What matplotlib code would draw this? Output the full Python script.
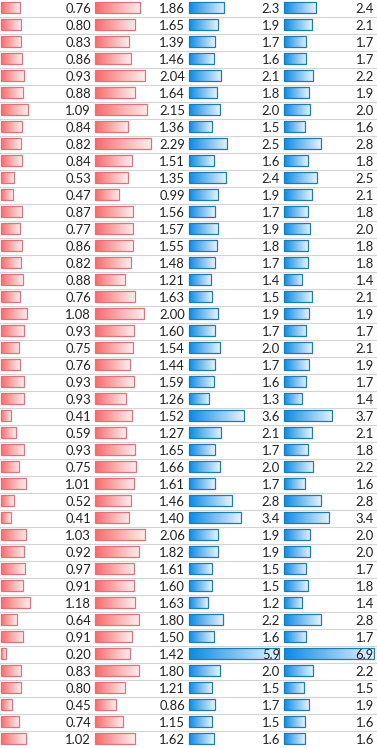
import numpy as np
import matplotlib
matplotlib.use('Agg')
import matplotlib.pyplot as plt
from matplotlib.colors import LinearSegmentedColormap
from matplotlib.transforms import blended_transform_factory

# values, top to bottom
col_a = [0.76, 0.80, 0.83, 0.86, 0.93, 0.88, 1.09, 0.84, 0.82, 0.84, 0.53,
         0.47, 0.87, 0.77, 0.86, 0.82, 0.88, 0.76, 1.08, 0.93, 0.75, 0.76,
         0.93, 0.93, 0.41, 0.59, 0.93, 0.75, 1.01, 0.52, 0.41, 1.03, 0.92,
         0.97, 0.91, 1.18, 0.64, 0.91, 0.20, 0.83, 0.80, 0.45, 0.74, 1.02]
col_b = [1.86, 1.65, 1.39, 1.46, 2.04, 1.64, 2.15, 1.36, 2.29, 1.51, 1.35,
         0.99, 1.56, 1.57, 1.55, 1.48, 1.21, 1.63, 2.00, 1.60, 1.54, 1.44,
         1.59, 1.26, 1.52, 1.27, 1.65, 1.66, 1.61, 1.46, 1.40, 2.06, 1.82,
         1.61, 1.60, 1.63, 1.80, 1.50, 1.42, 1.80, 1.21, 0.86, 1.15, 1.62]
col_c = [2.3, 1.9, 1.7, 1.6, 2.1, 1.8, 2.0, 1.5, 2.5, 1.6, 2.4,
         1.9, 1.7, 1.9, 1.8, 1.7, 1.4, 1.5, 1.9, 1.7, 2.0, 1.7,
         1.6, 1.3, 3.6, 2.1, 1.7, 2.0, 1.7, 2.8, 3.4, 1.9, 1.9,
         1.5, 1.5, 1.2, 2.2, 1.6, 5.9, 2.0, 1.5, 1.7, 1.5, 1.6]
col_d = [2.4, 2.1, 1.7, 1.7, 2.2, 1.9, 2.0, 1.6, 2.8, 1.8, 2.5,
         2.1, 1.8, 2.0, 1.8, 1.8, 1.4, 2.1, 1.9, 1.7, 2.1, 1.9,
         1.7, 1.4, 3.7, 2.1, 1.8, 2.2, 1.6, 2.8, 3.4, 2.0, 2.0,
         1.7, 1.8, 1.4, 2.8, 1.7, 6.9, 2.2, 1.5, 1.9, 1.6, 1.6]

columns = [col_a, col_b, col_c, col_d]
formats = ['{:.2f}', '{:.2f}', '{:.1f}', '{:.1f}']

red = LinearSegmentedColormap.from_list('red_bar', ['#F8696B', '#FFEEEE'])
blue = LinearSegmentedColormap.from_list('blue_bar', ['#0A8AE6', '#E6F3FD'])
cmaps = [red, red, blue, blue]
edges = ['#E0727C', '#E0727C', '#1C7DAE', '#1C7DAE']

# pixel layout of the sheet columns and pixels per data unit of each bar
W, H = 377, 748
col_x = [0, 94, 188, 283, 377]
px_per_unit = [24.3, 24.3, 15.25, 13.05]
grid_color = '#D4D4D4'

plt.rcParams['font.family'] = ['Lato', 'DejaVu Sans']

fig = plt.figure(figsize=(W / 100, H / 100), dpi=100)
grad = np.linspace(0, 1, 256).reshape(1, -1)

for j, vals in enumerate(columns):
    x0, x1 = col_x[j], col_x[j + 1]
    w = x1 - x0
    ax = fig.add_axes([x0 / W, 0, w / W, 1])
    n = len(vals)
    k = px_per_unit[j]

    for i, v in enumerate(vals):
        yc = i - 0.06
        bar = ax.barh(yc, v, height=0.7, left=0, color='none',
                      edgecolor=edges[j], linewidth=0.9, zorder=3)[0]
        im = ax.imshow(grad, cmap=cmaps[j], aspect='auto', zorder=2,
                       extent=(0, v, yc + 0.35, yc - 0.35),
                       interpolation='bilinear')
        im.set_clip_path(bar)

    trans = blended_transform_factory(ax.transAxes, ax.transData)
    for i, v in enumerate(vals):
        ax.text(1 - 3 / w, i + 0.03, formats[j].format(v), transform=trans,
                ha='right', va='center', fontsize=9.4, color='#222222', zorder=4)

    for i in range(n - 1):
        ax.axhline(i + 0.5, color=grid_color, linewidth=0.8, zorder=1)

    ax.set_xlim(-1.2 / k, (w - 1.2) / k)
    ax.set_ylim(n - 0.5, -0.5)
    ax.set_xticks([])
    ax.set_yticks([])
    for side in ['top', 'bottom', 'left']:
        ax.spines[side].set_visible(False)
    ax.spines['right'].set_color(grid_color)
    ax.spines['right'].set_linewidth(0.8)
    ax.set_facecolor('white')

fig.savefig('out.png', dpi=100)
